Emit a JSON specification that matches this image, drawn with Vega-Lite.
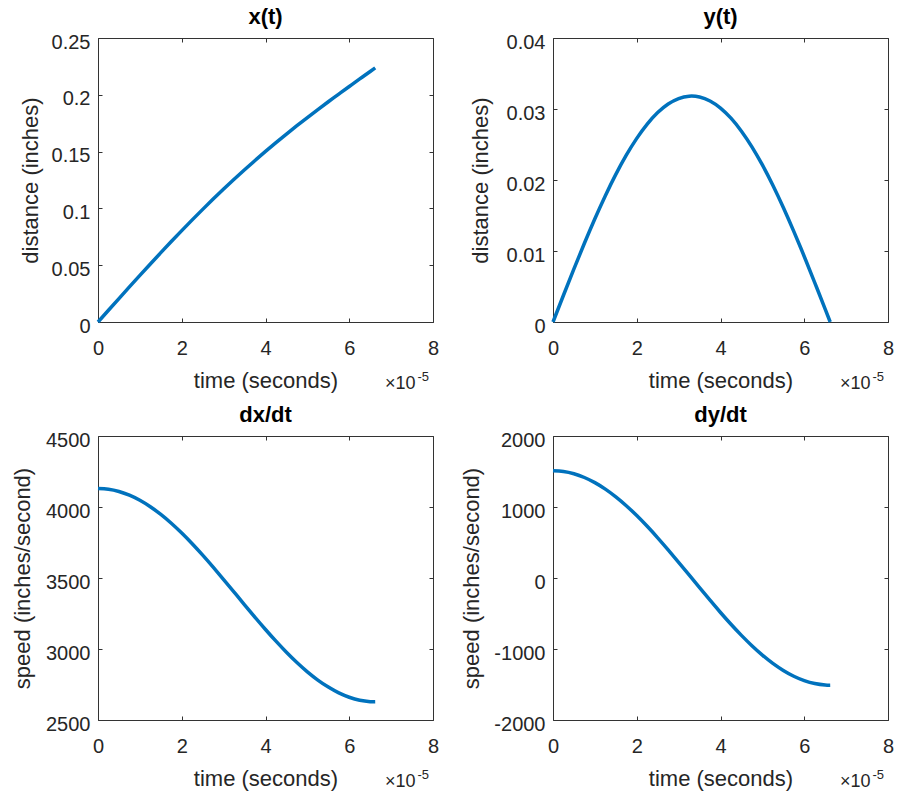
{
  "$schema": "https://vega.github.io/schema/vega-lite/v6.json",
  "background": "white",
  "padding": {"left": 10, "top": 5, "right": 5, "bottom": 0},
  "data": {"values": [
    {"t": 0, "x": 0, "y": 0, "dxdt": 4130, "dydt": 1510},
    {"t": 2.5e-6, "x": 0.010321, "y": 0.003766, "dxdt": 4124.7, "dydt": 1499.4},
    {"t": 5e-6, "x": 0.020615, "y": 0.007479, "dxdt": 4109.0, "dydt": 1467.7},
    {"t": 7.5e-6, "x": 0.030857, "y": 0.011088, "dxdt": 4082.9, "dydt": 1415.4},
    {"t": 1e-5, "x": 0.041021, "y": 0.014540, "dxdt": 4047.0, "dydt": 1343.1},
    {"t": 1.25e-5, "x": 0.051084, "y": 0.017787, "dxdt": 4001.7, "dydt": 1252.0},
    {"t": 1.5e-5, "x": 0.061022, "y": 0.020785, "dxdt": 3947.6, "dydt": 1143.3},
    {"t": 1.75e-5, "x": 0.070815, "y": 0.023491, "dxdt": 3885.6, "dydt": 1018.5},
    {"t": 2e-5, "x": 0.080444, "y": 0.025866, "dxdt": 3816.4, "dydt": 879.4},
    {"t": 2.25e-5, "x": 0.089892, "y": 0.027877, "dxdt": 3741.0, "dydt": 728.0},
    {"t": 2.5e-5, "x": 0.099145, "y": 0.029497, "dxdt": 3660.6, "dydt": 566.2},
    {"t": 2.75e-5, "x": 0.108192, "y": 0.030702, "dxdt": 3576.2, "dydt": 396.6},
    {"t": 3e-5, "x": 0.117024, "y": 0.031475, "dxdt": 3489.1, "dydt": 221.3},
    {"t": 3.25e-5, "x": 0.125636, "y": 0.031806, "dxdt": 3400.4, "dydt": 43.0},
    {"t": 3.5e-5, "x": 0.134026, "y": 0.031690, "dxdt": 3311.4, "dydt": -136.0},
    {"t": 3.75e-5, "x": 0.142194, "y": 0.031128, "dxdt": 3223.3, "dydt": -313.0},
    {"t": 4e-5, "x": 0.150144, "y": 0.030129, "dxdt": 3137.5, "dydt": -485.7},
    {"t": 4.25e-5, "x": 0.157884, "y": 0.028705, "dxdt": 3055.0, "dydt": -651.5},
    {"t": 4.5e-5, "x": 0.165423, "y": 0.026879, "dxdt": 2977.1, "dydt": -808.1},
    {"t": 4.75e-5, "x": 0.172774, "y": 0.024674, "dxdt": 2904.8, "dydt": -953.4},
    {"t": 5e-5, "x": 0.179953, "y": 0.022123, "dxdt": 2839.2, "dydt": -1085.3},
    {"t": 5.25e-5, "x": 0.186977, "y": 0.019260, "dxdt": 2781.2, "dydt": -1202.0},
    {"t": 5.5e-5, "x": 0.193866, "y": 0.016127, "dxdt": 2731.6, "dydt": -1301.7},
    {"t": 5.75e-5, "x": 0.200642, "y": 0.012767, "dxdt": 2691.1, "dydt": -1383.1},
    {"t": 6e-5, "x": 0.207329, "y": 0.009228, "dxdt": 2660.3, "dydt": -1445.1},
    {"t": 6.25e-5, "x": 0.213952, "y": 0.005558, "dxdt": 2639.5, "dydt": -1486.8},
    {"t": 6.5e-5, "x": 0.220536, "y": 0.001811, "dxdt": 2629.2, "dydt": -1507.6},
    {"t": 6.62e-5, "x": 0.223690, "y": 0, "dxdt": 2628, "dydt": -1510}
  ]},
  "columns": 2,
  "spacing": {"row": 114, "column": 120},
  "bounds": "flush",
  "concat": [
    {
      "width": 335, "height": 284,
      "title": {"text": "x(t)"},
      "layer": [
        {"mark": {"type": "line", "color": "#0072BD", "strokeWidth": 3.5, "interpolate": "natural"},
         "encoding": {
           "x": {"field": "t", "type": "quantitative", "scale": {"domain": [0, 8e-5], "nice": false, "zero": false},
                 "axis": {"orient": "bottom", "values": [0, 2e-5, 4e-5, 6e-5, 8e-5], "labelExpr": "toString(round(datum.value*1e5))", "ticks": false, "labelPadding": 16.5, "title": "time (seconds)", "titleX": 167.5, "titleY": 65, "titleAlign": "center", "titleBaseline": "alphabetic"}},
           "y": {"field": "x", "type": "quantitative", "scale": {"domain": [0, 0.25], "nice": false, "zero": false},
                 "axis": {"values": [0, 0.05, 0.1, 0.15, 0.2, 0.25], "labelExpr": "toString(datum.value)", "ticks": false, "labelPadding": 8, "labelOffset": 4, "title": "distance (inches)", "titleX": -61, "titleY": 142, "titleAlign": "center", "titleBaseline": "alphabetic", "titleAngle": -90}}
         }},
        {"mark": {"type": "line", "opacity": 0},
         "encoding": {
           "x": {"field": "t", "type": "quantitative", "scale": {"domain": [0, 8e-5], "nice": false, "zero": false},
                 "axis": {"orient": "top", "values": [0, 2e-5, 4e-5, 6e-5, 8e-5], "labels": false, "title": null}},
           "y": {"field": "x", "type": "quantitative", "scale": {"domain": [0, 0.25], "nice": false, "zero": false},
                 "axis": {"orient": "right", "values": [0, 0.05, 0.1, 0.15, 0.2, 0.25], "labels": false, "title": null}}
         }},
        {"mark": {"type": "line", "opacity": 0},
         "encoding": {
           "x": {"field": "t", "type": "quantitative", "scale": {"domain": [0, 8e-5], "nice": false, "zero": false},
                 "axis": {"orient": "bottom", "values": [0, 2e-5, 4e-5, 6e-5, 8e-5], "labels": false, "title": "×10", "titleFontSize": 18, "titleX": 317, "titleY": 66, "titleAlign": "right", "titleBaseline": "alphabetic"}},
           "y": {"field": "x", "type": "quantitative", "scale": {"domain": [0, 0.25], "nice": false, "zero": false},
                 "axis": {"orient": "left", "values": [0, 0.05, 0.1, 0.15, 0.2, 0.25], "labels": false, "title": null}}
         }},
        {"mark": {"type": "line", "opacity": 0},
         "encoding": {
           "x": {"field": "t", "type": "quantitative", "scale": {"domain": [0, 8e-5], "nice": false, "zero": false},
                 "axis": {"orient": "bottom", "values": [0], "labels": false, "ticks": false, "title": "-5", "titleFontSize": 13, "titleX": 319, "titleY": 58, "titleAlign": "left", "titleBaseline": "alphabetic"}},
           "y": {"field": "x", "type": "quantitative", "axis": null}
         }}
      ],
      "resolve": {"axis": {"x": "independent", "y": "independent"}}
    },
    {
      "width": 335, "height": 284,
      "title": {"text": "y(t)"},
      "layer": [
        {"mark": {"type": "line", "color": "#0072BD", "strokeWidth": 3.5, "interpolate": "natural"},
         "encoding": {
           "x": {"field": "t", "type": "quantitative", "scale": {"domain": [0, 8e-5], "nice": false, "zero": false},
                 "axis": {"orient": "bottom", "values": [0, 2e-5, 4e-5, 6e-5, 8e-5], "labelExpr": "toString(round(datum.value*1e5))", "ticks": false, "labelPadding": 16.5, "title": "time (seconds)", "titleX": 167.5, "titleY": 65, "titleAlign": "center", "titleBaseline": "alphabetic"}},
           "y": {"field": "y", "type": "quantitative", "scale": {"domain": [0, 0.04], "nice": false, "zero": false},
                 "axis": {"values": [0, 0.01, 0.02, 0.03, 0.04], "labelExpr": "toString(datum.value)", "ticks": false, "labelPadding": 8, "labelOffset": 4, "title": "distance (inches)", "titleX": -66, "titleY": 142, "titleAlign": "center", "titleBaseline": "alphabetic", "titleAngle": -90}}
         }},
        {"mark": {"type": "line", "opacity": 0},
         "encoding": {
           "x": {"field": "t", "type": "quantitative", "scale": {"domain": [0, 8e-5], "nice": false, "zero": false},
                 "axis": {"orient": "top", "values": [0, 2e-5, 4e-5, 6e-5, 8e-5], "labels": false, "title": null}},
           "y": {"field": "y", "type": "quantitative", "scale": {"domain": [0, 0.04], "nice": false, "zero": false},
                 "axis": {"orient": "right", "values": [0, 0.01, 0.02, 0.03, 0.04], "labels": false, "title": null}}
         }},
        {"mark": {"type": "line", "opacity": 0},
         "encoding": {
           "x": {"field": "t", "type": "quantitative", "scale": {"domain": [0, 8e-5], "nice": false, "zero": false},
                 "axis": {"orient": "bottom", "values": [0, 2e-5, 4e-5, 6e-5, 8e-5], "labels": false, "title": "×10", "titleFontSize": 18, "titleX": 317, "titleY": 66, "titleAlign": "right", "titleBaseline": "alphabetic"}},
           "y": {"field": "y", "type": "quantitative", "scale": {"domain": [0, 0.04], "nice": false, "zero": false},
                 "axis": {"orient": "left", "values": [0, 0.01, 0.02, 0.03, 0.04], "labels": false, "title": null}}
         }},
        {"mark": {"type": "line", "opacity": 0},
         "encoding": {
           "x": {"field": "t", "type": "quantitative", "scale": {"domain": [0, 8e-5], "nice": false, "zero": false},
                 "axis": {"orient": "bottom", "values": [0], "labels": false, "ticks": false, "title": "-5", "titleFontSize": 13, "titleX": 319, "titleY": 58, "titleAlign": "left", "titleBaseline": "alphabetic"}},
           "y": {"field": "y", "type": "quantitative", "axis": null}
         }}
      ],
      "resolve": {"axis": {"x": "independent", "y": "independent"}}
    },
    {
      "width": 335, "height": 284,
      "title": {"text": "dx/dt"},
      "layer": [
        {"mark": {"type": "line", "color": "#0072BD", "strokeWidth": 3.5, "interpolate": "natural"},
         "encoding": {
           "x": {"field": "t", "type": "quantitative", "scale": {"domain": [0, 8e-5], "nice": false, "zero": false},
                 "axis": {"orient": "bottom", "values": [0, 2e-5, 4e-5, 6e-5, 8e-5], "labelExpr": "toString(round(datum.value*1e5))", "ticks": false, "labelPadding": 16.5, "title": "time (seconds)", "titleX": 167.5, "titleY": 65, "titleAlign": "center", "titleBaseline": "alphabetic"}},
           "y": {"field": "dxdt", "type": "quantitative", "scale": {"domain": [2500, 4500], "nice": false, "zero": false},
                 "axis": {"values": [2500, 3000, 3500, 4000, 4500], "labelExpr": "toString(datum.value)", "ticks": false, "labelPadding": 8, "labelOffset": 4, "title": "speed (inches/second)", "titleX": -69, "titleY": 142, "titleAlign": "center", "titleBaseline": "alphabetic", "titleAngle": -90}}
         }},
        {"mark": {"type": "line", "opacity": 0},
         "encoding": {
           "x": {"field": "t", "type": "quantitative", "scale": {"domain": [0, 8e-5], "nice": false, "zero": false},
                 "axis": {"orient": "top", "values": [0, 2e-5, 4e-5, 6e-5, 8e-5], "labels": false, "title": null}},
           "y": {"field": "dxdt", "type": "quantitative", "scale": {"domain": [2500, 4500], "nice": false, "zero": false},
                 "axis": {"orient": "right", "values": [2500, 3000, 3500, 4000, 4500], "labels": false, "title": null}}
         }},
        {"mark": {"type": "line", "opacity": 0},
         "encoding": {
           "x": {"field": "t", "type": "quantitative", "scale": {"domain": [0, 8e-5], "nice": false, "zero": false},
                 "axis": {"orient": "bottom", "values": [0, 2e-5, 4e-5, 6e-5, 8e-5], "labels": false, "title": "×10", "titleFontSize": 18, "titleX": 317, "titleY": 66, "titleAlign": "right", "titleBaseline": "alphabetic"}},
           "y": {"field": "dxdt", "type": "quantitative", "scale": {"domain": [2500, 4500], "nice": false, "zero": false},
                 "axis": {"orient": "left", "values": [2500, 3000, 3500, 4000, 4500], "labels": false, "title": null}}
         }},
        {"mark": {"type": "line", "opacity": 0},
         "encoding": {
           "x": {"field": "t", "type": "quantitative", "scale": {"domain": [0, 8e-5], "nice": false, "zero": false},
                 "axis": {"orient": "bottom", "values": [0], "labels": false, "ticks": false, "title": "-5", "titleFontSize": 13, "titleX": 319, "titleY": 58, "titleAlign": "left", "titleBaseline": "alphabetic"}},
           "y": {"field": "dxdt", "type": "quantitative", "axis": null}
         }}
      ],
      "resolve": {"axis": {"x": "independent", "y": "independent"}}
    },
    {
      "width": 335, "height": 284,
      "title": {"text": "dy/dt"},
      "layer": [
        {"mark": {"type": "line", "color": "#0072BD", "strokeWidth": 3.5, "interpolate": "natural"},
         "encoding": {
           "x": {"field": "t", "type": "quantitative", "scale": {"domain": [0, 8e-5], "nice": false, "zero": false},
                 "axis": {"orient": "bottom", "values": [0, 2e-5, 4e-5, 6e-5, 8e-5], "labelExpr": "toString(round(datum.value*1e5))", "ticks": false, "labelPadding": 16.5, "title": "time (seconds)", "titleX": 167.5, "titleY": 65, "titleAlign": "center", "titleBaseline": "alphabetic"}},
           "y": {"field": "dydt", "type": "quantitative", "scale": {"domain": [-2000, 2000], "nice": false, "zero": false},
                 "axis": {"values": [-2000, -1000, 0, 1000, 2000], "labelExpr": "toString(datum.value)", "ticks": false, "labelPadding": 8, "labelOffset": 4, "title": "speed (inches/second)", "titleX": -75, "titleY": 142, "titleAlign": "center", "titleBaseline": "alphabetic", "titleAngle": -90}}
         }},
        {"mark": {"type": "line", "opacity": 0},
         "encoding": {
           "x": {"field": "t", "type": "quantitative", "scale": {"domain": [0, 8e-5], "nice": false, "zero": false},
                 "axis": {"orient": "top", "values": [0, 2e-5, 4e-5, 6e-5, 8e-5], "labels": false, "title": null}},
           "y": {"field": "dydt", "type": "quantitative", "scale": {"domain": [-2000, 2000], "nice": false, "zero": false},
                 "axis": {"orient": "right", "values": [-2000, -1000, 0, 1000, 2000], "labels": false, "title": null}}
         }},
        {"mark": {"type": "line", "opacity": 0},
         "encoding": {
           "x": {"field": "t", "type": "quantitative", "scale": {"domain": [0, 8e-5], "nice": false, "zero": false},
                 "axis": {"orient": "bottom", "values": [0, 2e-5, 4e-5, 6e-5, 8e-5], "labels": false, "title": "×10", "titleFontSize": 18, "titleX": 317, "titleY": 66, "titleAlign": "right", "titleBaseline": "alphabetic"}},
           "y": {"field": "dydt", "type": "quantitative", "scale": {"domain": [-2000, 2000], "nice": false, "zero": false},
                 "axis": {"orient": "left", "values": [-2000, -1000, 0, 1000, 2000], "labels": false, "title": null}}
         }},
        {"mark": {"type": "line", "opacity": 0},
         "encoding": {
           "x": {"field": "t", "type": "quantitative", "scale": {"domain": [0, 8e-5], "nice": false, "zero": false},
                 "axis": {"orient": "bottom", "values": [0], "labels": false, "ticks": false, "title": "-5", "titleFontSize": 13, "titleX": 319, "titleY": 58, "titleAlign": "left", "titleBaseline": "alphabetic"}},
           "y": {"field": "dydt", "type": "quantitative", "axis": null}
         }}
      ],
      "resolve": {"axis": {"x": "independent", "y": "independent"}}
    }
  ],
  "config": {
    "font": "Liberation Sans",
    "view": {"stroke": "#333333", "strokeWidth": 1},
    "axis": {
      "grid": false, "domain": false,
      "labelFont": "Liberation Sans", "labelFontSize": 20, "labelColor": "#262626",
      "labelFlush": false, "labelOverlap": false, "labelBound": false,
      "titleFont": "Liberation Sans", "titleFontSize": 22, "titleFontWeight": "normal", "titleColor": "#262626",
      "tickColor": "#333333", "tickSize": -4, "tickWidth": 1
    },
    "title": {"font": "Liberation Sans", "fontSize": 22, "fontWeight": "bold", "color": "#000000", "baseline": "alphabetic", "offset": 3, "anchor": "middle"}
  }
}
